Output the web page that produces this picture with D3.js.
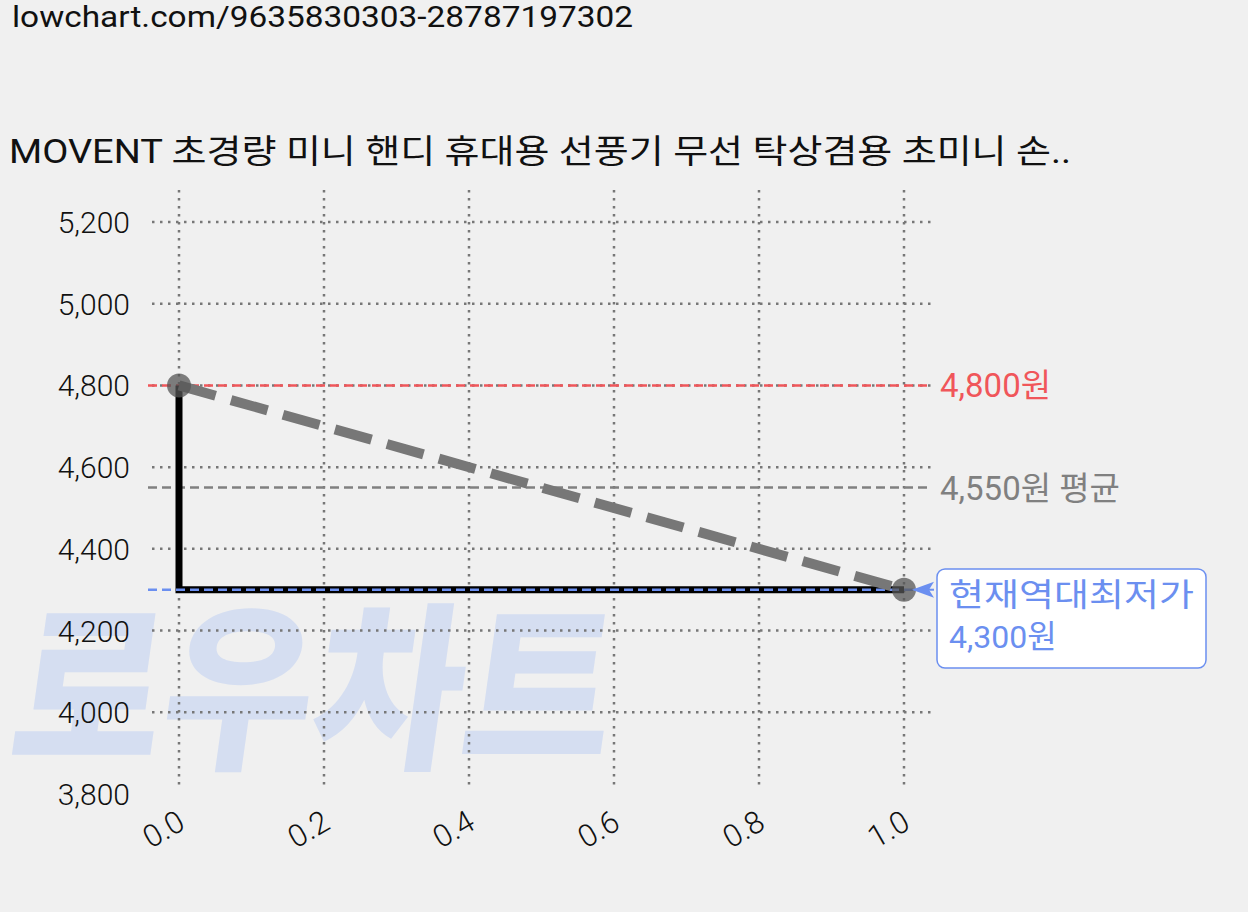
<!DOCTYPE html><html><head><meta charset="utf-8">
<script src="https://cdn.jsdelivr.net/npm/d3@7"></script>
<style>body{margin:0;background:#f0f0f0}svg{font-family:Roboto,"Noto Sans CJK KR",sans-serif}</style></head><body>
<svg id="c" width="1248" height="912"></svg>
<script>
const xTicks=[0,0.2,0.4,0.6,0.8,1.0];
const yTicks=[3800,4000,4200,4400,4600,4800,5000,5200];
const stepX=[0,0,1];
const stepY=[4800,4300,4300];
const trendX=[0,1];
const trendY=[4800,4300];
const maxPrice=4800, avgPrice=4550, minPrice=4300;
const title="MOVENT 초경량 미니 핸디 휴대용 선풍기 무선 탁상겸용 초미니 손..";
const url="lowchart.com/9635830303-28787197302";

const svg=d3.select("#c");
const x=d3.scaleLinear().domain([0,1]).range([179,904]);
const y=d3.scaleLinear().domain([3800,5200]).range([794,222]);
svg.append("rect").attr("width",1248).attr("height",912).attr("fill","#f0f0f0");
svg.append("text").attr("x",12).attr("y",27).attr("font-size",29).attr("fill","#111").attr("textLength",621).attr("lengthAdjust","spacingAndGlyphs").text(url);
svg.append("text").attr("x",9).attr("y",163).attr("font-size",33).attr("fill","#111").attr("textLength",1062).attr("lengthAdjust","spacingAndGlyphs").text(title);
// watermark
svg.append("text").attr("x",0).attr("y",755).attr("font-size",180).attr("font-weight",900)
 .attr("fill","#d5def1").attr("transform","skewX(-8) translate(112,0)").attr("textLength",600)
 .attr("lengthAdjust","spacingAndGlyphs").text("로우차트");
// grid
const g=svg.append("g");
yTicks.filter(v=>v>3800).forEach(v=>g.append("line").attr("x1",152).attr("x2",932).attr("y1",y(v)).attr("y2",y(v))
 .attr("stroke","#777").attr("stroke-width",2.5).attr("stroke-dasharray","2.5,5.5"));
xTicks.forEach(v=>g.append("line").attr("x1",x(v)).attr("x2",x(v)).attr("y1",190).attr("y2",785)
 .attr("stroke","#777").attr("stroke-width",2.5).attr("stroke-dasharray","2.5,5.5"));
yTicks.forEach(v=>svg.append("text").attr("x",130).attr("y",y(v)+11).attr("text-anchor","end")
 .attr("font-size",30).attr("font-weight",300).attr("fill","#111").text(d3.format(",")(v)));
xTicks.forEach(v=>svg.append("text").attr("transform",`translate(${x(v)+8},${828}) rotate(-30)`)
 .attr("text-anchor","end").attr("font-size",31).attr("font-weight",300).attr("fill","#111").text(v.toFixed(1)));
// ref lines
svg.append("line").attr("x1",148).attr("x2",932).attr("y1",y(maxPrice)).attr("y2",y(maxPrice)).attr("stroke","#f0565a").attr("stroke-width",2.5).attr("stroke-dasharray","9,5");
svg.append("text").attr("x",940).attr("y",y(maxPrice)+12).attr("font-size",33).attr("fill","#f0565a").text(d3.format(",")(maxPrice)+"원");
svg.append("line").attr("x1",148).attr("x2",932).attr("y1",y(avgPrice)).attr("y2",y(avgPrice)).attr("stroke","#808080").attr("stroke-width",2.5).attr("stroke-dasharray","9,5");
svg.append("text").attr("x",940).attr("y",y(avgPrice)+12).attr("font-size",33).attr("fill","#808080").text(d3.format(",")(avgPrice)+"원 평균");
// step line
const line=d3.line().x(d=>x(d[0])).y(d=>y(d[1]));
svg.append("path").attr("d",line(stepX.map((v,i)=>[v,stepY[i]]))).attr("fill","none").attr("stroke","#000").attr("stroke-width",7);
svg.append("line").attr("x1",148).attr("x2",932).attr("y1",y(minPrice)).attr("y2",y(minPrice)).attr("stroke","#6b8ff0").attr("stroke-width",2.5).attr("stroke-dasharray","9,5");
svg.append("path").attr("d",line(trendX.map((v,i)=>[v,trendY[i]]))).attr("fill","none").attr("stroke","#777").attr("stroke-width",10).attr("stroke-dasharray","38,16");
trendX.forEach((v,i)=>svg.append("circle").attr("cx",x(v)).attr("cy",y(trendY[i])).attr("r",12).attr("fill","#555").attr("opacity",0.75));
// annotation
svg.append("path").attr("d",`M${x(1)+8},${y(minPrice)} l22,-8 l-5,8 l5,8 z`).attr("fill","#6b8ff0");
svg.append("line").attr("x1",x(1)+10).attr("x2",x(1)+30).attr("y1",y(minPrice)).attr("y2",y(minPrice)).attr("stroke","#6b8ff0").attr("stroke-width",2);
svg.append("rect").attr("x",937).attr("y",569).attr("width",269).attr("height",99).attr("rx",8).attr("fill","#fff").attr("stroke","#6b8ff0").attr("stroke-width",1.5);
svg.append("text").attr("x",949).attr("y",606).attr("font-size",32).attr("fill","#6b8ff0").attr("textLength",245).attr("lengthAdjust","spacingAndGlyphs").text("현재역대최저가");
svg.append("text").attr("x",949).attr("y",648).attr("font-size",32).attr("fill","#6b8ff0").text(d3.format(",")(minPrice)+"원");
</script></body></html>
